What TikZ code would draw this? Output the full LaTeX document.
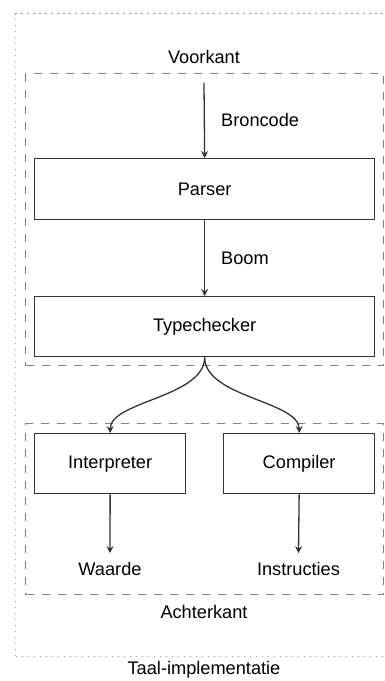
\documentclass[tikz,border=0pt]{standalone}
\usepackage{fontspec}
\setmainfont{Liberation Sans}
\usetikzlibrary{arrows.meta}
\definecolor{boxline}{HTML}{333333}
\definecolor{dashline}{HTML}{808080}
\definecolor{dotline}{HTML}{A0A0A0}
\tikzset{
  txt/.style={font=\fontsize{18.2}{22}\selectfont, text=black, inner sep=0pt},
  procbox/.style={draw=boxline, line width=1.3pt, fill=white, font=\fontsize{18.2}{22}\selectfont, inner sep=0pt},
  groupbox/.style={draw=dashline, line width=1.1pt, dash pattern=on 8pt off 8pt, inner sep=0pt},
  outerbox/.style={draw=dotline, line width=1.1pt, dash pattern=on 1.2pt off 4.8pt, inner sep=0pt},
  arr/.style={draw=boxline, line width=1.3pt, -{Stealth[length=7pt,width=7pt,inset=2.5pt]}},
}
\begin{document}
\begin{tikzpicture}[x=1pt,y=-1pt]
\useasboundingbox (0,0) rectangle (385,681);
\clip (0,0) rectangle (385,681);
% outer dotted box
\node[outerbox, minimum width=390pt, minimum height=643pt, anchor=north west] (outer) at (15,13) {};
\node[txt] (taal) at (204,670) {Taal-implementatie};
% front group
\node[groupbox, minimum width=358pt, minimum height=292pt, anchor=north west] (front) at (25,73) {};
\node[txt] (voorkant) at (204,57) {Voorkant};
% back group
\node[groupbox, minimum width=358pt, minimum height=171pt, anchor=north west] (back) at (25,423) {};
\node[txt] (achterkant) at (204,612) {Achterkant};
% boxes
\node[procbox, minimum width=340pt, minimum height=61pt, anchor=north west] (parser) at (34,158) {Parser};
\node[procbox, minimum width=340pt, minimum height=60pt, anchor=north west] (type) at (34,296) {Typechecker};
\node[procbox, minimum width=151pt, minimum height=60pt, anchor=north west] (interp) at (34,433) {Interpreter};
\node[procbox, minimum width=151pt, minimum height=60pt, anchor=north west] (comp) at (223,433) {Compiler};
% outputs
\node[txt, inner sep=9pt] (waarde) at (110,569) {Waarde};
\node[txt, inner sep=9pt] (instr) at (298.5,569) {Instructies};
% edge labels
\node[txt, anchor=west] (bron) at (221,120) {Broncode};
\node[txt, anchor=west] (boom) at (221,258) {Boom};
% connectors
\coordinate (start) at (204,83);
\draw[arr] (start) -- (parser.north);
\draw[arr] (parser.south) -- (type.north);
\draw[arr] (type.south) .. controls +(0,40) and +(0,-32) .. (interp.north);
\draw[arr] (type.south) .. controls +(0,40) and +(0,-32) .. (comp.north);
\draw[arr] (interp.south) -- (waarde.north);
\draw[arr] (comp.south) -- (instr.north);
\end{tikzpicture}
\end{document}
